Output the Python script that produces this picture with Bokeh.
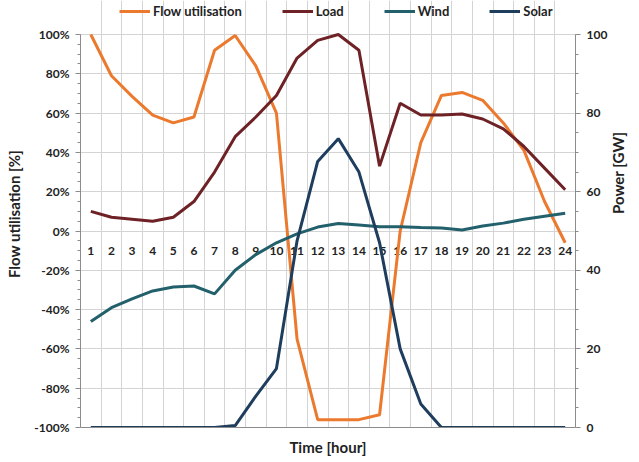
import math
from bokeh.plotting import figure
from bokeh.models import (Range1d, LinearAxis, FixedTicker, PrintfTickFormatter,
                          Legend, LegendItem, ColumnDataSource)
from bokeh.core.properties import value
from bokeh.embed import file_html
from bokeh.resources import INLINE

hours = list(range(1, 25))
hour_labels = [str(h) for h in hours]
flow_util = [100, 79, 68.5, 59, 55, 58, 92, 99.5, 84, 60, -55, -96,
             -96, -96, -93.5, 0, 45, 69, 70.5, 66.5, 55, 41, 15, -6]
load_gw = [55, 53.5, 53, 52.5, 53.5, 57.5, 65, 74, 79, 84.5, 94, 98.5,
           100, 96, 66.5, 82.5, 79.5, 79.5, 79.75, 78.5, 76, 71.5, 66, 60.5]
wind_gw = [27, 30.5, 32.75, 34.75, 35.75, 36, 34, 40, 44, 47, 49.25, 51,
           51.9, 51.5, 51.1, 51.1, 50.9, 50.75, 50.25, 51.25, 52, 53, 53.75, 54.5]
solar_gw = [0, 0, 0, 0, 0, 0, 0, 0.5, 8, 15, 47.5, 67.7,
            73.5, 65, 47, 20, 6, 0, 0, 0, 0, 0, 0, 0]
left_ticks = [-100, -80, -60, -40, -20, 0, 20, 40, 60, 80, 100]
right_ticks = [0, 20, 40, 60, 80, 100]

FONT = "Lato"
C_FLOW = "#EB7A2E"
C_LOAD = "#6E2226"
C_WIND = "#22606C"
C_SOLAR = "#1F3E5E"
GRID = "#d4d4d4"
AXIS = "#8c8c8c"

# frame spans the full height; the top strip (above 100%) holds the legend
FRAME_H = 427
PLOT_H = 393
p = figure(width=639, height=462, output_backend="svg", toolbar_location=None,
           x_range=Range1d(0.5, 24.5),
           y_range=Range1d(-100, -100 + 200 * FRAME_H / PLOT_H),
           min_border_left=80, min_border_right=59, min_border_top=0,
           min_border_bottom=35)
p.outline_line_color = None
p.extra_y_ranges = {"power": Range1d(0, 100 * FRAME_H / PLOT_H)}

# x axis (title only)
p.xaxis.ticker = FixedTicker(ticks=[])
p.xaxis.major_tick_out = 0
p.xaxis.major_tick_in = 0
p.xaxis.minor_tick_line_color = None
p.xaxis.axis_line_color = AXIS
p.xaxis.axis_label = "Time [hour]"
p.xaxis.axis_label_text_font = FONT
p.xaxis.axis_label_text_font_style = "bold"
p.xaxis.axis_label_text_font_size = "15px"
p.xaxis.axis_label_text_color = "#222222"
p.xaxis.axis_label_standoff = 10
p.xaxis.major_label_standoff = 0

# left axis
p.yaxis.ticker = FixedTicker(ticks=left_ticks,
                             minor_ticks=list(range(-100, 101, 5)))
p.yaxis.formatter = PrintfTickFormatter(format="%d%%")
p.yaxis.axis_label = "Flow utilisation [%]"
p.yaxis.bounds = (-100, 100)

p.add_layout(LinearAxis(y_range_name="power", bounds=(0, 100),
                        ticker=FixedTicker(ticks=right_ticks,
                                           minor_ticks=list(range(0, 101, 5))),
                        axis_label="Power [GW]"), "right")

for ax in p.yaxis:
    ax.axis_line_color = AXIS
    ax.major_tick_line_color = AXIS
    ax.minor_tick_line_color = AXIS
    ax.major_tick_out = 5
    ax.major_tick_in = 0
    ax.minor_tick_out = 3
    ax.minor_tick_in = 0
    ax.major_label_text_font = FONT
    ax.major_label_text_font_style = "bold"
    ax.major_label_text_font_size = "12px"
    ax.major_label_text_color = "#222222"
    ax.major_label_standoff = 6
    ax.axis_label_text_font = FONT
    ax.axis_label_text_font_style = "bold"
    ax.axis_label_text_font_size = "15px"
    ax.axis_label_text_color = "#222222"
    ax.axis_label_standoff = 8
p.yaxis[1].axis_label_orientation = math.pi / 2

p.xgrid.ticker = FixedTicker(ticks=[h + 0.5 for h in range(0, 25)])
p.xgrid.bounds = (-100, 100)
p.ygrid.ticker = FixedTicker(ticks=left_ticks)
p.xgrid.grid_line_color = GRID
p.ygrid.grid_line_color = GRID

src = ColumnDataSource(dict(h=hours, lab=hour_labels, zero=[0] * 24))
p.text(x="h", y="zero", text="lab", source=src, text_font=value(FONT),
       text_font_style="bold", text_font_size="12px", text_color="#222222",
       text_align="center", text_baseline="middle", y_offset=20)

r_flow = p.line(hours, flow_util, line_color=C_FLOW, line_width=3)
r_load = p.line(hours, load_gw, line_color=C_LOAD, line_width=3, y_range_name="power")
r_wind = p.line(hours, wind_gw, line_color=C_WIND, line_width=3, y_range_name="power")
r_solar = p.line(hours, solar_gw, line_color=C_SOLAR, line_width=3, y_range_name="power")

legend = Legend(items=[LegendItem(label="Flow utilisation", renderers=[r_flow]),
                       LegendItem(label="Load", renderers=[r_load]),
                       LegendItem(label="Wind", renderers=[r_wind]),
                       LegendItem(label="Solar", renderers=[r_solar])],
                orientation="horizontal", location=(39, 408),
                label_text_font=FONT, label_text_font_size="13px",
                label_text_font_style="bold", label_text_color="#222222",
                glyph_width=31, glyph_height=14, label_standoff=3,
                spacing=40, padding=0, margin=0, border_line_color=None,
                background_fill_alpha=0, label_height=14)
p.add_layout(legend, "center")

open("out.html", "w").write(file_html(p, INLINE))
